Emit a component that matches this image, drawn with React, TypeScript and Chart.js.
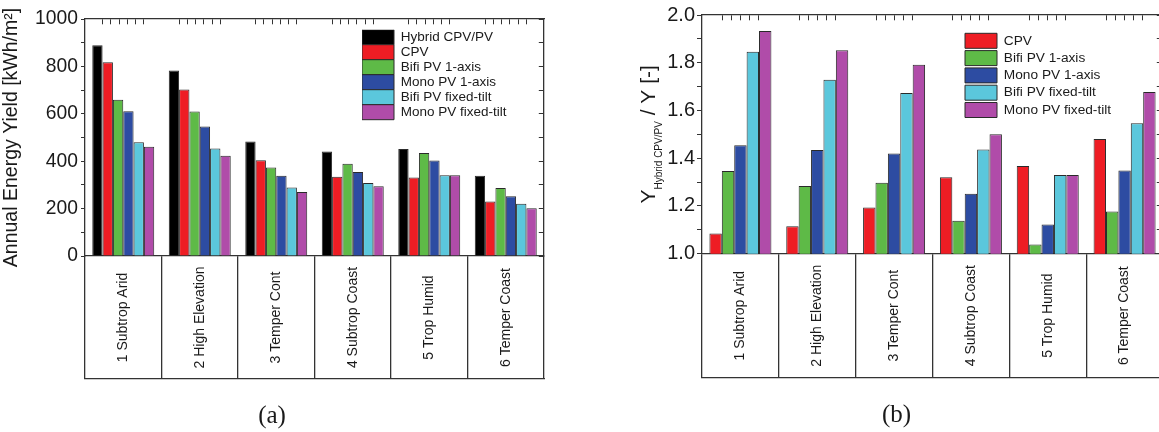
import React, { useEffect, useRef } from 'react';
import { Chart, registerables } from 'chart.js';

Chart.register(...registerables);

// ---------- data ----------
const categories = [
  '1 Subtrop Arid',
  '2 High Elevation',
  '3 Temper Cont',
  '4 Subtrop Coast',
  '5 Trop Humid',
  '6 Temper Coast',
];

// (a) Annual energy yield [kWh/m2]
const hybridYield = [889, 783, 483, 441, 452, 339];
const cpvYield = [817, 703, 404, 334, 331, 230];
const bifi1AxisYield = [659, 610, 373, 389, 435, 287];
const mono1AxisYield = [611, 546, 339, 354, 403, 252];
const bifiFixedYield = [480, 454, 289, 308, 341, 220];
const monoFixedYield = [461, 423, 270, 294, 341, 201];

// (b) Y_Hybrid / Y ratio [-]
const cpvRatio = [1.085, 1.115, 1.194, 1.32, 1.367, 1.48];
const bifi1AxisRatio = [1.346, 1.284, 1.297, 1.138, 1.039, 1.177];
const mono1AxisRatio = [1.454, 1.434, 1.42, 1.251, 1.122, 1.349];
const bifiFixedRatio = [1.846, 1.729, 1.673, 1.437, 1.33, 1.546];
const monoFixedRatio = [1.933, 1.852, 1.792, 1.5, 1.33, 1.677];

const yieldMajorTicks = [0, 200, 400, 600, 800, 1000];
const ratioMajorTicks = [1.0, 1.2, 1.4, 1.6, 1.8, 2.0];

// small top-axis tick marks inside each category (offsets in category units)
const topTickOffsetsA = [-0.271, -0.163, -0.054, 0.054, 0.163, 0.271];
const topTickOffsetsB = [-0.234, -0.117, 0, 0.117, 0.234];

const seriesNames = [
  'Hybrid CPV/PV',
  'CPV',
  'Bifi PV 1-axis',
  'Mono PV 1-axis',
  'Bifi PV fixed-tilt',
  'Mono PV fixed-tilt',
];
const seriesColors = ['#000000', '#ee1d24', '#5eba47', '#2d4ca2', '#5bc7dc', '#b04ca9'];

// ---------- styles ----------
const SANS = '"Liberation Sans", Arial, sans-serif';
const SERIF = '"Liberation Serif", "Times New Roman", serif';
const TEXT = '#1a1a1a';
const FRAME = '#333333';
const EDGE = '#2a2a2a';

const rightTickDash = (len: number) => (ctx: any) => {
  const a = ctx.chart.chartArea;
  if (!a) return [];
  const w = a.right - a.left;
  return [0, Math.max(w - len - 0.5, 0), len, 5000];
};

const topTickDash = (len: number) => (_ctx: any) => [len, 5000];

const frameAxis = (position: string, weight = 0) => ({
  type: 'linear',
  position,
  weight,
  min: 0,
  max: 1,
  offset: false,
  grid: { display: false, drawTicks: false, offset: false },
  ticks: { display: false },
  border: { display: true, color: FRAME, width: 1.3 },
});

const topAxis = (offsets: number[]) => ({
  type: 'linear',
  axis: 'x',
  position: 'top',
  min: -0.5,
  max: categories.length - 0.5,
  offset: false,
  afterBuildTicks: (s: any) => {
    s.ticks = categories.flatMap((_, i) => offsets.map((o) => ({ value: i + o })));
  },
  grid: {
    display: true,
    offset: false,
    drawOnChartArea: true,
    drawTicks: false,
    color: FRAME,
    lineWidth: 1,
  },
  ticks: { display: false, autoSkip: false },
  border: { display: true, color: FRAME, width: 1.3, dash: topTickDash(5) },
});

const boxLabelsPlugin = {
  id: 'boxLabels',
  afterDraw(chart: any) {
    const xs = chart.scales.x;
    const ctx = chart.ctx;
    const len = xs.options.grid.tickLength;
    const cy = xs.top + len / 2;
    ctx.save();
    ctx.font = `14px ${SANS}`;
    ctx.fillStyle = TEXT;
    ctx.textAlign = 'center';
    ctx.textBaseline = 'middle';
    (chart.data.labels as string[]).forEach((lab, i) => {
      const x = xs.getPixelForValue(i);
      ctx.save();
      ctx.translate(x, cy);
      ctx.rotate(-Math.PI / 2);
      ctx.fillText(lab, 0, 0);
      ctx.restore();
    });
    ctx.restore();
  },
};

const legendPlacer = (fromLeft: number, fromTop: number) => ({
  id: 'legendPlacer',
  afterLayout(chart: any) {
    const lg = chart.legend;
    const a = chart.chartArea;
    if (!lg || !a) return;
    lg.left = a.left + fromLeft;
    lg.top = a.top + fromTop;
    lg.right = a.right;
    lg.bottom = a.bottom;
  },
});

const ratioTitlePlugin = {
  id: 'ratioTitle',
  afterDraw(chart: any) {
    const ys = chart.scales.y;
    const a = chart.chartArea;
    const ctx = chart.ctx;
    const main = `21px ${SANS}`;
    const sub = `10px ${SANS}`;
    const parts = [
      { t: 'Y', f: main, dy: 0 },
      { t: 'Hybrid CPV/PV', f: sub, dy: 7 },
      { t: ' / Y [-]', f: main, dy: 0 },
    ];
    ctx.save();
    let total = 0;
    const widths = parts.map((p) => {
      ctx.font = p.f;
      const w = ctx.measureText(p.t).width;
      total += w;
      return w;
    });
    ctx.translate(ys.left + 24.5, (a.top + a.bottom) / 2);
    ctx.rotate(-Math.PI / 2);
    ctx.fillStyle = TEXT;
    ctx.textAlign = 'left';
    ctx.textBaseline = 'alphabetic';
    let x = -total / 2;
    parts.forEach((p, i) => {
      ctx.font = p.f;
      ctx.fillText(p.t, x, p.dy);
      x += widths[i];
    });
    ctx.restore();
  },
};

const isMajor = (v: number, majors: number[]) => majors.find((m) => Math.abs(m - v) < 1e-6);

function makeDatasets(values: number[][], names: string[], colors: string[], catPct: number) {
  return values.map((data, i) => ({
    label: names[i],
    data,
    backgroundColor: colors[i],
    borderColor: EDGE,
    borderWidth: 1,
    categoryPercentage: catPct,
    barPercentage: 1,
    xAxisID: 'x',
    yAxisID: 'y',
  }));
}

function configA(): any {
  return {
    type: 'bar',
    data: {
      labels: categories,
      datasets: makeDatasets(
        [hybridYield, cpvYield, bifi1AxisYield, mono1AxisYield, bifiFixedYield, monoFixedYield],
        seriesNames,
        seriesColors,
        0.81
      ),
    },
    options: {
      responsive: false,
      animation: false,
      layout: { padding: { top: 19, right: 4, bottom: 0, left: 0 } },
      plugins: {
        legend: {
          position: 'chartArea',
          align: 'start',
          labels: {
            boxWidth: 32,
            boxHeight: 15,
            padding: 0,
            color: TEXT,
            font: { family: SANS, size: 13.5 },
          },
        },
        title: {
          display: true,
          text: '(a)',
          position: 'bottom',
          color: TEXT,
          font: { family: SERIF, size: 25, weight: 'normal' },
          padding: { top: 22, bottom: 1 },
        },
        tooltip: { enabled: false },
      },
      scales: {
        x: {
          offset: true,
          grid: {
            offset: true,
            drawOnChartArea: false,
            drawTicks: true,
            tickLength: 123,
            tickColor: FRAME,
            tickWidth: 1.3,
            color: FRAME,
            lineWidth: 1.3,
          },
          border: { display: true, color: FRAME, width: 1.3 },
          ticks: { display: false },
        },
        y: {
          min: 0,
          max: 1000,
          afterFit: (s: any) => {
            s.width = 85;
          },
          ticks: {
            stepSize: 100,
            autoSkip: false,
            padding: 3,
            color: TEXT,
            font: { family: SANS, size: 19.3 },
            callback: (v: number) => {
              const m = isMajor(v, yieldMajorTicks);
              return m === undefined ? '' : String(m);
            },
          },
          grid: {
            drawOnChartArea: true,
            color: FRAME,
            lineWidth: 1,
            drawTicks: true,
            tickLength: 4,
            tickColor: FRAME,
            tickWidth: 1,
          },
          border: { display: true, color: FRAME, width: 1.3, dash: rightTickDash(5) },
          title: {
            display: true,
            text: 'Annual Energy Yield [kWh/m²]',
            color: TEXT,
            font: { family: SANS, size: 19.5 },
            padding: { top: 0, bottom: 0 },
          },
        },
        x2: topAxis(topTickOffsetsA),
        x3: { ...frameAxis('bottom', 1), axis: 'x' },
        y2: { ...frameAxis('right'), axis: 'y' },
      },
    },
    plugins: [legendPlacer(277, 10.7), boxLabelsPlugin],
  };
}

function configB(): any {
  return {
    type: 'bar',
    data: {
      labels: categories,
      datasets: makeDatasets(
        [cpvRatio, bifi1AxisRatio, mono1AxisRatio, bifiFixedRatio, monoFixedRatio],
        seriesNames.slice(1),
        seriesColors.slice(1),
        0.807
      ),
    },
    options: {
      responsive: false,
      animation: false,
      layout: { padding: { top: 15, right: 1, bottom: 0, left: 0 } },
      plugins: {
        legend: {
          position: 'chartArea',
          align: 'start',
          labels: {
            boxWidth: 32,
            boxHeight: 15,
            padding: 2.3,
            color: TEXT,
            font: { family: SANS, size: 13.7 },
          },
        },
        title: {
          display: true,
          text: '(b)',
          position: 'bottom',
          color: TEXT,
          font: { family: SERIF, size: 25, weight: 'normal' },
          padding: { top: 22.3, bottom: 2 },
        },
        tooltip: { enabled: false },
      },
      scales: {
        x: {
          offset: true,
          grid: {
            offset: true,
            drawOnChartArea: false,
            drawTicks: true,
            tickLength: 124,
            tickColor: FRAME,
            tickWidth: 1.3,
            color: FRAME,
            lineWidth: 1.3,
          },
          border: { display: true, color: FRAME, width: 1.3 },
          ticks: { display: false },
        },
        y: {
          min: 1,
          max: 2,
          afterFit: (s: any) => {
            s.width = 72;
          },
          ticks: {
            stepSize: 0.1,
            autoSkip: false,
            padding: 2,
            color: TEXT,
            font: { family: SANS, size: 20 },
            callback: (v: number) => {
              const m = isMajor(v, ratioMajorTicks);
              return m === undefined ? '' : m.toFixed(1);
            },
          },
          grid: {
            drawOnChartArea: true,
            color: FRAME,
            lineWidth: 1,
            drawTicks: true,
            tickLength: 5,
            tickColor: FRAME,
            tickWidth: 1,
          },
          border: { display: true, color: FRAME, width: 1.3, dash: rightTickDash(6) },
        },
        x2: topAxis(topTickOffsetsB),
        x3: { ...frameAxis('bottom', 1), axis: 'x' },
        y2: { ...frameAxis('right'), axis: 'y' },
      },
    },
    plugins: [legendPlacer(263 - 2.3, 18.3 - 2.3), boxLabelsPlugin, ratioTitlePlugin],
  };
}

function Panel({ make, width, height }: { make: () => any; width: number; height: number }) {
  const ref = useRef<HTMLCanvasElement>(null);
  useEffect(() => {
    const chart = new Chart(ref.current as HTMLCanvasElement, make());
    return () => chart.destroy();
  }, [make]);
  return <canvas ref={ref} width={width} height={height} style={{ display: 'block', width, height }} />;
}

export default function App() {
  return (
    <div
      style={{
        position: 'absolute',
        left: 0,
        top: 0,
        width: 1159,
        height: 432,
        overflow: 'hidden',
        background: '#ffffff',
      }}
    >
      <div style={{ position: 'absolute', left: 0, top: 0 }}>
        <Panel make={configA} width={548} height={432} />
      </div>
      <div style={{ position: 'absolute', left: 630, top: 0 }}>
        <Panel make={configB} width={534} height={432} />
      </div>
    </div>
  );
}
